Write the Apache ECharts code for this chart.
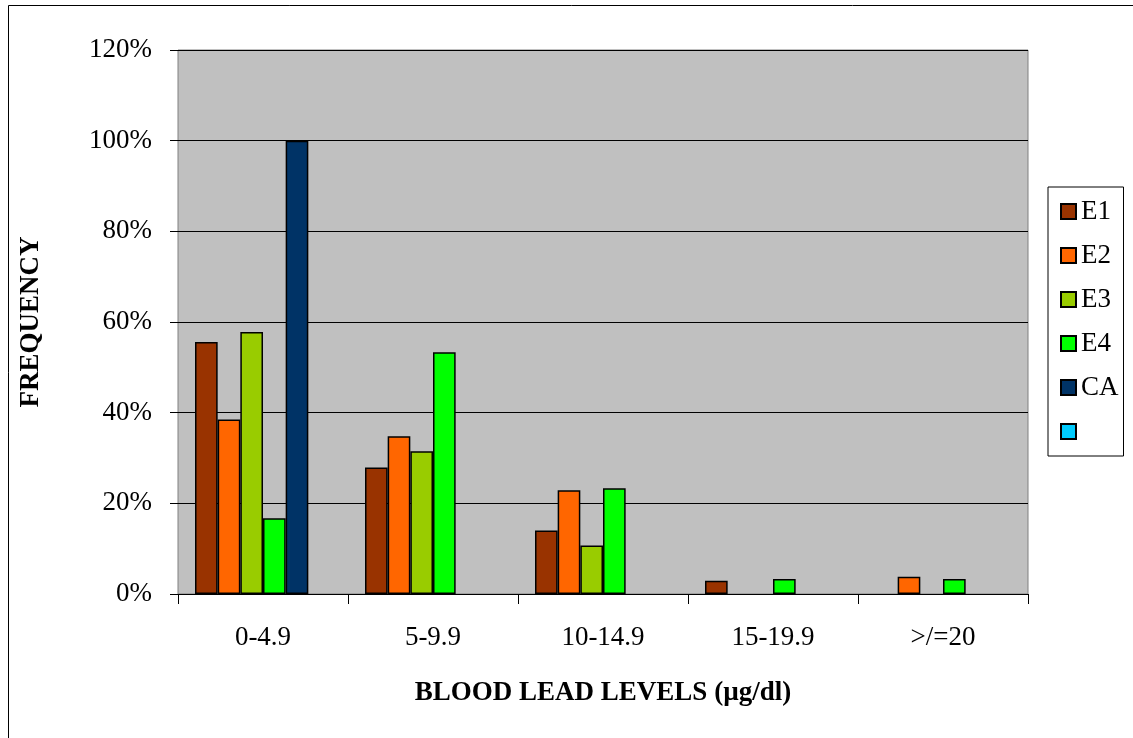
<!DOCTYPE html>
<html>
<head>
<meta charset="utf-8">
<title>Blood lead levels</title>
<script src="https://cdn.jsdelivr.net/npm/echarts@6/dist/echarts.min.js"></script>
<style>
	html, body { margin: 0; padding: 0; background: #fff; }
	#main { width: 1133px; height: 738px; }
</style>
</head>
<body>
<div id="main"></div>
<script>
//分类 与 各组数据 (%)
var categories = ['0-4.9', '5-9.9', '10-14.9', '15-19.9', '>/=20'];
var e1 = [55.6, 27.9, 14.0, 2.9, null];
var e2 = [38.5, 34.8, 22.9, null, 3.8];
var e3 = [57.8, 31.5, 10.7, null, null];
var e4 = [16.7, 53.3, 23.3, 3.3, 3.3];
var ca = [100, null, null, null, null];
var blank = [null, null, null, null, null];
var seriesNames = ['E1', 'E2', 'E3', 'E4', 'CA', ' '];
var seriesColors = ['#993300', '#FF6600', '#99CC00', '#00FF00', '#003366', '#00CCFF'];
var yTicks = [0, 20, 40, 60, 80, 100, 120];

var FONT = '"Liberation Serif", "Times New Roman", serif';

function makeBar(i, data) {
	return {
		name: seriesNames[i],
		type: 'bar',
		data: data,
		barGap: 0,
		barCategoryGap: '20%',
		itemStyle: {
			color: seriesColors[i],
			borderColor: '#000',
			borderWidth: 1.5
		}
	};
}

function build_chart() {
	var option = {
		animation: false,
		backgroundColor: '#fff',
		graphic: [{
			type: 'rect',
			shape: { x: 8.5, y: 5.5, width: 1300, height: 900 },
			style: { fill: 'none', stroke: '#000', lineWidth: 1 },
			silent: true
		}],
		grid: {
			left: 178,
			right: 105,
			top: 50,
			bottom: 144,
			show: true,
			backgroundColor: '#C0C0C0',
			borderColor: '#808080',
			borderWidth: 1
		},
		legend: {
			orient: 'vertical',
			left: 1048,
			top: 187,
			padding: [11, 5, 11, 12],
			itemWidth: 15,
			itemHeight: 15,
			itemGap: 17,
			itemTextGap: 11,
			backgroundColor: '#fff',
			borderColor: '#000',
			borderWidth: 1,
			borderRadius: 0,
			icon: 'rect',
			data: seriesNames,
			textStyle: {
				fontFamily: FONT,
				fontSize: 27,
				color: '#000'
			}
		},
		xAxis: {
			type: 'category',
			data: categories,
			name: 'BLOOD LEAD LEVELS (µg/dl)',
			nameLocation: 'middle',
			nameGap: 86,
			nameTextStyle: {
				fontFamily: FONT,
				fontSize: 27,
				fontWeight: 'bold',
				color: '#000'
			},
			axisLine: { show: true, lineStyle: { color: '#000', width: 1 } },
			axisTick: { show: true, length: 10, lineStyle: { color: '#000' } },
			axisLabel: {
				margin: 30,
				fontFamily: FONT,
				fontSize: 27,
				color: '#000'
			},
			splitLine: { show: false }
		},
		yAxis: {
			type: 'value',
			min: yTicks[0],
			max: yTicks[yTicks.length - 1],
			interval: 20,
			name: 'FREQUENCY',
			nameLocation: 'middle',
			nameGap: 133,
			nameTextStyle: {
				fontFamily: FONT,
				fontSize: 27,
				fontWeight: 'bold',
				color: '#000'
			},
			axisLine: { show: false },
			axisTick: { show: true, length: 8, lineStyle: { color: '#000' } },
			axisLabel: {
				margin: 26,
				fontFamily: FONT,
				fontSize: 27,
				color: '#000',
				formatter: '{value}%'
			},
			splitLine: { show: true, lineStyle: { color: '#000', width: 1 } }
		},
		series: [
			makeBar(0, e1),
			makeBar(1, e2),
			makeBar(2, e3),
			makeBar(3, e4),
			makeBar(4, ca),
			makeBar(5, blank)
		]
	};
	var myChart = echarts.init(document.getElementById('main'));
	myChart.setOption(option, true);
}

build_chart();
</script>
</body>
</html>
